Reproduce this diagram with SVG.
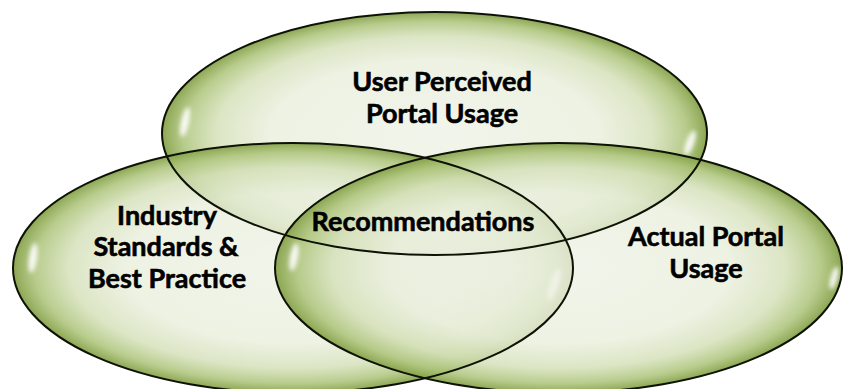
<svg xmlns="http://www.w3.org/2000/svg" width="843" height="389" viewBox="0 0 843 389">
  <defs>
    <radialGradient id="g" cx="50%" cy="50%" r="50%">
      <stop offset="0" stop-color="#eef2e6" stop-opacity="0.8"/>
      <stop offset="0.6" stop-color="#e9efdc" stop-opacity="0.8"/>
      <stop offset="0.8" stop-color="#d3dfb6" stop-opacity="0.8"/>
      <stop offset="0.92" stop-color="#adc47a" stop-opacity="0.85"/>
      <stop offset="1" stop-color="#86a24a" stop-opacity="0.95"/>
    </radialGradient>
    <filter id="blur" x="-100%" y="-100%" width="300%" height="300%">
      <feGaussianBlur stdDeviation="2.2"/>
    </filter>
  </defs>
  <style>
    .shape { fill: url(#g); stroke: none; }
    .edge { fill: none; stroke: #0d1205; stroke-width: 2; }
    .hl { fill: #ffffff; opacity: 0.9; filter: url(#blur); }
    .lbl { font-family: Lato, "Liberation Sans", sans-serif; font-weight: bold; font-size: 27px; fill: #000000; stroke: #000000; stroke-width: 0.6; text-anchor: middle; }
  </style>
  <rect width="843" height="389" fill="#ffffff"/>
  <g id="node-user-perceived">
    <ellipse id="e-top" class="shape" cx="434.5" cy="133.5" rx="272.5" ry="121.5"/>
    <ellipse class="hl" cx="185" cy="122" rx="4" ry="15" transform="rotate(12 185 122)"/>
    <ellipse class="hl" cx="690" cy="143" rx="4" ry="13" transform="rotate(20 690 143)"/>
  </g>
  <g id="node-industry">
    <ellipse id="e-left" class="shape" cx="293" cy="268" rx="280" ry="125"/>
    <ellipse class="hl" cx="33" cy="258" rx="4" ry="15" transform="rotate(8 33 258)"/>
    <ellipse class="hl" cx="554" cy="285" rx="4" ry="17" transform="rotate(18 554 285)"/>
  </g>
  <g id="node-actual">
    <ellipse id="e-right" class="shape" cx="558.5" cy="268" rx="283.5" ry="125"/>
    <ellipse class="hl" cx="294" cy="257" rx="4" ry="14" transform="rotate(10 294 257)"/>
    <ellipse class="hl" cx="834" cy="278" rx="3.5" ry="12" transform="rotate(15 834 278)"/>
  </g>
  <g id="outlines">
    <ellipse class="edge" cx="434.5" cy="133.5" rx="272.5" ry="121.5"/>
    <ellipse class="edge" cx="293" cy="268" rx="280" ry="125"/>
    <ellipse class="edge" cx="558.5" cy="268" rx="283.5" ry="125"/>
  </g>
  <g id="labels">
    <text class="lbl" x="442" y="91">User Perceived</text>
    <text class="lbl" x="442" y="123">Portal Usage</text>
    <text class="lbl" x="167" y="225">Industry</text>
    <text class="lbl" x="166" y="256">Standards &amp;</text>
    <text class="lbl" x="167" y="288">Best Practice</text>
    <text class="lbl" x="423" y="231">Recommendations</text>
    <text class="lbl" x="706" y="246">Actual Portal</text>
    <text class="lbl" x="706" y="278">Usage</text>
  </g>
</svg>
